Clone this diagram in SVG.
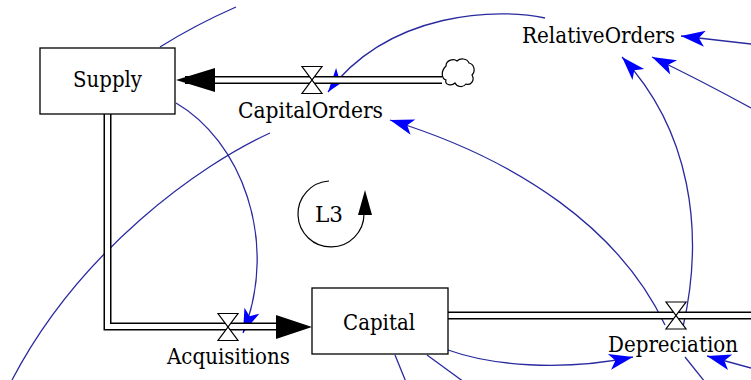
<svg xmlns="http://www.w3.org/2000/svg" width="751" height="380" viewBox="0 0 751 380">
<style>
.lbl{font-family:'DejaVu Serif',serif;font-size:22px;fill:#000;text-anchor:middle}
.box{fill:#fff;stroke:#000;stroke-width:1.3}
.pipeO{fill:none;stroke:#000;stroke-width:8;stroke-linejoin:miter}
.pipeI{fill:none;stroke:#fff;stroke-width:5;stroke-linejoin:miter}
.valve{fill:#fff;stroke:#000;stroke-width:1.2;stroke-linejoin:miter}
.link{fill:none;stroke:#2a2aa0;stroke-width:1.3}
.arr{marker-end:url(#ah)}
.flowhead{fill:#000}
</style>
<defs>
<marker id="ah" markerUnits="userSpaceOnUse" viewBox="-26 -10 28 20" refX="0" refY="0" markerWidth="28" markerHeight="20" orient="auto">
<path d="M0,0 L-24,-8 L-18,0 L-24,8 Z" fill="#0000ff"/>
</marker>
<path id="valveShape" d="M-10,-13.5 H10 L-10,13.5 H10 Z"/>
</defs>

<g id="connectors">
<path class="link arr" d="M545,18 C500,8 390,10 328,92"/>
<path class="link arr" d="M665,325 C620,230 520,160 390,120"/>
<path class="link arr" d="M683,327 C705,230 690,130 622,57"/>
<path class="link arr" d="M751,108 Q700,80 652,57"/>
<path class="link arr" d="M751,44 L681,36"/>
<path class="link arr" d="M176,103 C240,140 280,240 243,333"/>
<path class="link" d="M270,133 C200,165 80,250 12,380"/>
<path class="link" d="M160,47 Q195,25 236,7"/>
<path class="link arr" d="M448,350 C490,365 560,372 633,357"/>
<path class="link arr" d="M751,368 L707,356"/>
<path class="link" d="M685,357 L705,382"/>
<path class="link" d="M395,355 L406,382"/>
<path class="link" d="M427,355 L464,382"/>
</g>

<g id="flow-CapitalOrders">
<path class="pipeO" d="M442,80 H185"/>
<path class="pipeI" d="M443,80 H185"/>
<polygon class="flowhead" points="176,80 215,68 215,92"/>
<use href="#valveShape" class="valve" transform="translate(312,80)"/>
</g>

<g id="cloud">
<path d="M446,66 C446,60 454,58 457,61 C460,58 467,58 469,63 C474,64 476,71 472,75 C475,80 471,86 466,84 C463,88 457,87 455,83 C451,87 444,84 446,80 C441,78 441,71 446,66 Z" fill="#fff" stroke="#000" stroke-width="1.2"/>
</g>

<g id="flow-Acquisitions">
<path class="pipeO" d="M107.5,100 V326.5 H290"/>
<path class="pipeI" d="M107.5,100 V326.5 H290"/>
<polygon class="flowhead" points="312,327 276,315 276,339"/>
<use href="#valveShape" class="valve" transform="translate(228,327)"/>
</g>

<g id="flow-Depreciation">
<path class="pipeO" d="M440,315.5 H752"/>
<path class="pipeI" d="M440,315.5 H752"/>
<use href="#valveShape" class="valve" transform="translate(676,315.5)"/>
</g>

<g id="Supply">
<rect class="box" x="40" y="48" width="135" height="66"/>
<text class="lbl" x="107.5" y="87" textLength="69" lengthAdjust="spacingAndGlyphs">Supply</text>
</g>

<g id="Capital">
<rect class="box" x="312" y="288" width="136" height="66"/>
<text class="lbl" x="379" y="330" textLength="72" lengthAdjust="spacingAndGlyphs">Capital</text>
</g>

<g id="CapitalOrders">
<text class="lbl" x="310.5" y="118" textLength="145" lengthAdjust="spacingAndGlyphs">CapitalOrders</text>
</g>

<g id="RelativeOrders">
<text class="lbl" x="598.5" y="43" textLength="153" lengthAdjust="spacingAndGlyphs">RelativeOrders</text>
</g>

<g id="Acquisitions">
<text class="lbl" x="228.5" y="364" textLength="123" lengthAdjust="spacingAndGlyphs">Acquisitions</text>
</g>

<g id="Depreciation">
<text class="lbl" x="673" y="352" textLength="130" lengthAdjust="spacingAndGlyphs">Depreciation</text>
</g>

<g id="L3">
<path d="M329,181 A33,33 0 1 0 364,214" fill="none" stroke="#000" stroke-width="1.2"/>
<polygon points="365,190 358,215 372,215" fill="#000"/>
<text class="lbl" x="329" y="222" textLength="28" lengthAdjust="spacingAndGlyphs">L3</text>
</g>
</svg>
